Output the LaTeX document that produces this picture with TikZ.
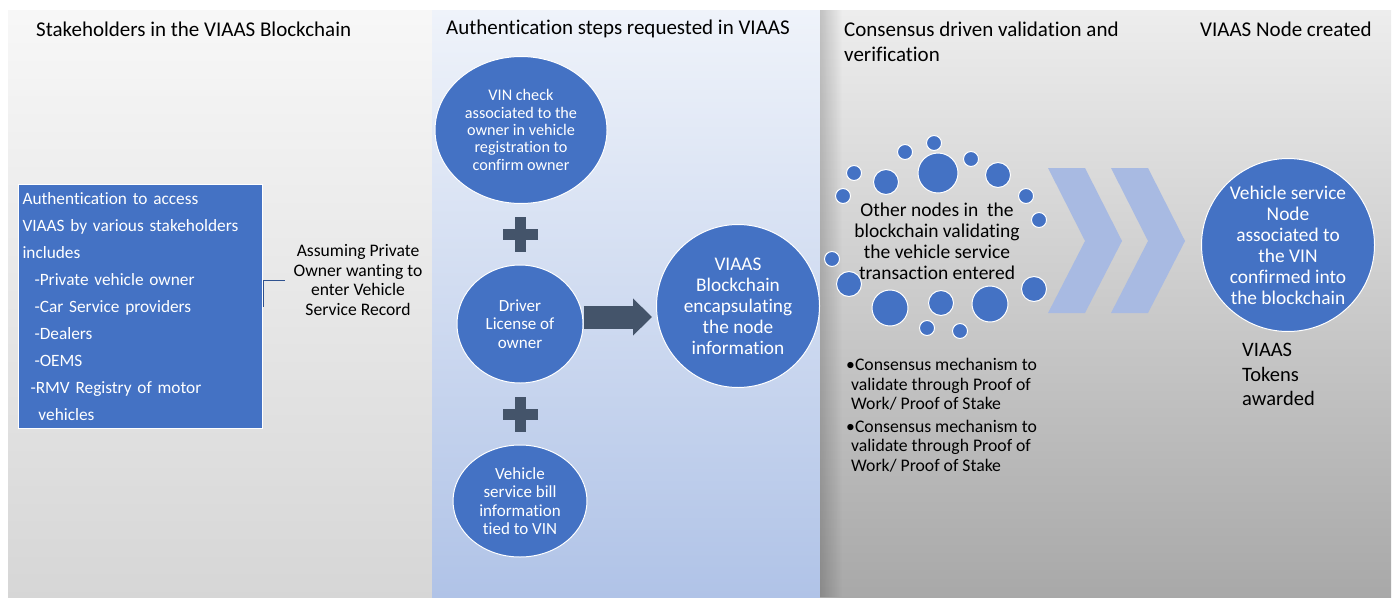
\documentclass[tikz,border=0pt]{standalone}
\usepackage{fontspec}
\setmainfont{Carlito}[Ligatures=CommonOff]
\usepackage{tikz}
\usetikzlibrary{arrows.meta, shapes, positioning, calc, fadings}

\definecolor{viaasblue}{HTML}{4472C4}
\definecolor{slate}{HTML}{44546A}
\definecolor{chevblue}{HTML}{A8BAE2}
\definecolor{linkblue}{HTML}{2F528F}

\begin{document}
\begin{tikzpicture}[
  x=1pt, y=-1pt,
  % --- styles ------------------------------------------------------------
  heading/.style={anchor=west, font=\fontsize{21}{25}\selectfont, align=left, inner sep=0pt},
  bubble/.style={
    ellipse, draw=white, line width=1pt, fill=viaasblue,
    text=white, align=center, inner sep=0pt
  },
  dot/.style={circle, draw=white, line width=1pt, fill=viaasblue, inner sep=0pt},
  note/.style={align=center, inner sep=0pt, text=black},
  plus/.style={fill=slate},
  chev/.style={fill=chevblue},
  link/.style={linkblue, line width=1pt},
  bigarrow/.style={slate, line width=23pt, -{Triangle[length=19pt, width=36pt]}}
]
\useasboundingbox (0,0) rectangle (1396,597);

% --------------------- panels -------------------------------------------
\shade[top color=white!97!black, bottom color=white!84!black] (8,10) rectangle (432,597);
\shade[top color={rgb,255:red,239;green,243;blue,250}, bottom color={rgb,255:red,176;green,195;blue,231}] (432,10) rectangle (820,597);
\shade[top color=white!93!black, bottom color=white!66!black] (820,10) rectangle (1391,597);
\fill[black, opacity=0.18, path fading=east] (820,10) rectangle (842,597);

% --------------------- headings -----------------------------------------
\node[heading] (headA) at (36,29) {Stakeholders in the VIAAS Blockchain};
\node[heading] (headB) at (446,29) {Authentication steps requested in VIAAS};
\node[heading] (headC) at (844,41.5) {Consensus driven validation and\\verification};
\node[heading] (headD) at (1200,29) {VIAAS Node created};

% --------------------- stakeholders -------------------------------------
\node[rectangle, draw=white, line width=1pt, fill=viaasblue, text=white,
      anchor=north west, minimum width=244pt, minimum height=244pt,
      text width=236pt, inner sep=4pt, align=left,
      font=\fontsize{17.3}{27}\selectfont] (stake) at (18,184)
  {Authentication to access\\
   VIAAS by various stakeholders\\
   includes\\
   \hspace*{12pt}-Private vehicle owner\\
   \hspace*{12pt}-Car Service providers\\
   \hspace*{12pt}-Dealers\\
   \hspace*{12pt}-OEMS\\
   \hspace*{8pt}-RMV Registry of motor\\
   \hspace*{16pt}vehicles};

\node[note, font=\fontsize{17.6}{19.7}\selectfont, inner xsep=8pt] (assume) at (358,280)
  {Assuming Private\\Owner wanting to\\enter Vehicle\\Service Record};
\draw[link] (stake.east) |- (assume.west);

% --------------------- authentication steps -----------------------------
\node[bubble, minimum width=172pt, minimum height=147pt, font=\fontsize{16.2}{17.3}\selectfont] (vin) at (521,130)
  {VIN check\\associated to the\\owner in vehicle\\registration to\\confirm owner};
\node[bubble, minimum width=126pt, minimum height=118pt, font=\fontsize{17}{18.7}\selectfont] (driver) at (520,324)
  {Driver\\License of\\owner};
\node[bubble, minimum width=134pt, minimum height=112pt, font=\fontsize{17}{18.5}\selectfont] (bill) at (520,501)
  {Vehicle\\service bill\\information\\tied to VIN};

\coordinate (plusA) at (520,234);
\coordinate (plusB) at (520,414);
\foreach \p in {plusA, plusB}{
  \fill[plus] (\p) +(-5.5,-17.5) rectangle +(5.5,17.5);
  \fill[plus] (\p) +(-17.5,-5.5) rectangle +(17.5,5.5);
}

\node[bubble, circle, minimum size=163pt, font=\fontsize{19.3}{21}\selectfont] (chain) at (738,306)
  {VIAAS\\Blockchain\\encapsulating\\the node\\information};
\draw[bigarrow] ([yshift=7pt]driver.east) -- ([yshift=7pt, xshift=-4pt]driver.east -| chain.west);

% --------------------- consensus ----------------------------------------
\foreach \x/\y/\r [count=\i] in {934/143/7.5, 905/152/7.5, 971/159/7.5, 938/173/20,
    886/182/12.5, 998/175/12.5, 854/173/7.5, 843/196/7.5, 1026/196/7.5, 1039/220/7.5,
    832/259/7.5, 849/284/12.5, 890/308/18, 941/303/12.5, 990/304/18, 1034/289/12.5,
    927/328/7.5, 960/331/7.5}
  \node[dot, minimum size=2*\r pt] (dot\i) at (\x,\y) {};

\node[note, font=\fontsize{19.5}{21}\selectfont] (others) at (937,241)
  {Other nodes in~ the\\blockchain validating\\the vehicle service\\transaction entered};

\node[note, anchor=north west, align=left, font=\fontsize{17.7}{19.6}\selectfont] (bullets) at (846,358)
  {\textbullet Consensus mechanism to\\
   \hspace*{5pt}validate through Proof of\\
   \hspace*{5pt}Work/ Proof of Stake\\[3pt]
   \textbullet Consensus mechanism to\\
   \hspace*{5pt}validate through Proof of\\
   \hspace*{5pt}Work/ Proof of Stake};

% chevrons
\foreach \cx in {1048, 1111}
  \fill[chev] (\cx,168) -- ++(37,0) -- ++(37,73) -- ++(-37,72) -- ++(-37,0) -- ++(37,-72) -- cycle;

% --------------------- node created -------------------------------------
\node[bubble, circle, minimum size=173pt, font=\fontsize{19.4}{21}\selectfont] (final) at (1288,245)
  {Vehicle service\\Node\\associated to\\the VIN\\confirmed into\\the blockchain};

\node[note, anchor=north west, align=left, font=\fontsize{20.5}{24.5}\selectfont] (tokens) at (1242,343)
  {VIAAS\\Tokens\\awarded};

\end{tikzpicture}
\end{document}
